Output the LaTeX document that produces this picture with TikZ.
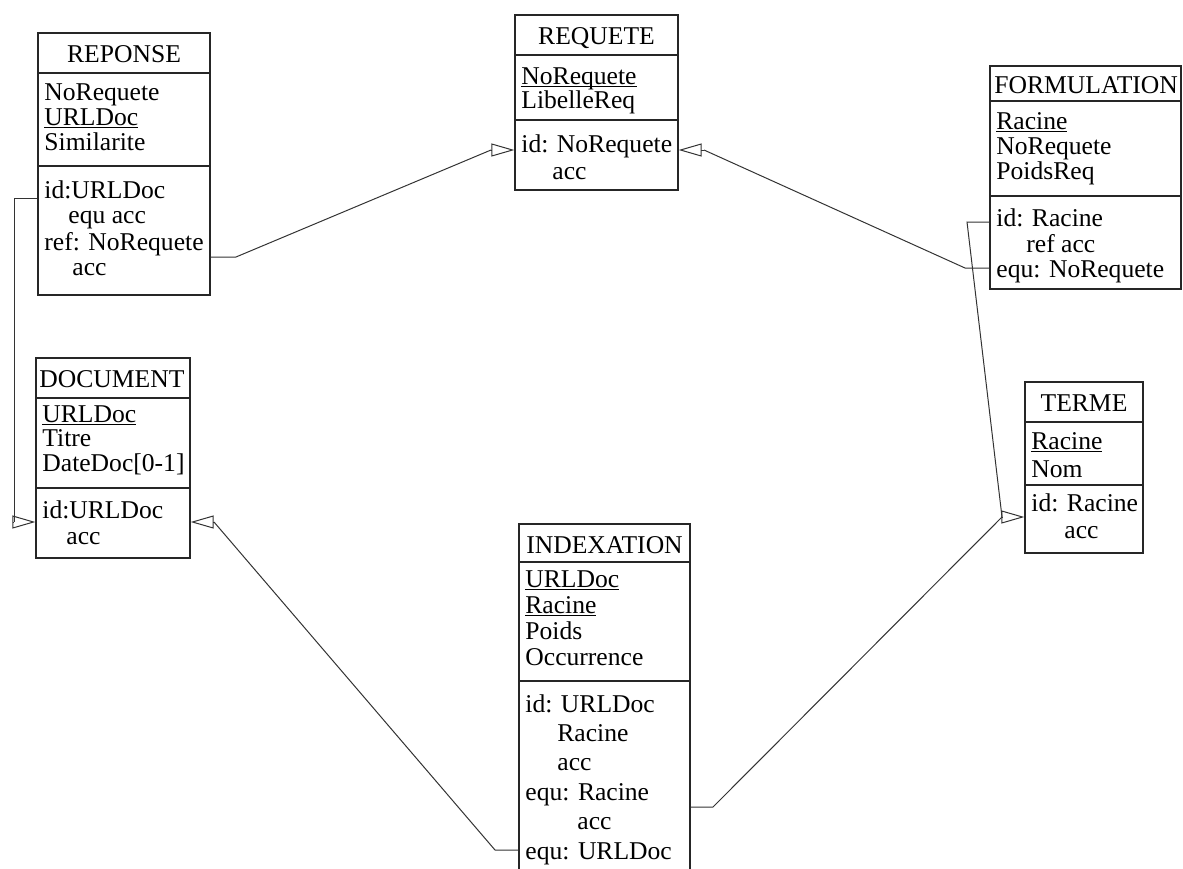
\documentclass[tikz,border=0pt]{standalone}
\usepackage{fontspec}
\setmainfont{Liberation Serif}
\usetikzlibrary{arrows.meta,fit}

% key attribute: a rule just under the baseline, through any descender
\newcommand\keyattr[1]{\setbox0=\hbox{#1}\rlap{\rule[-1.7pt]{\wd0}{0.55pt}}\box0}

\tikzset{
  % 1 unit = one pixel of a 1183 x 868 sheet, y pointing down
  x=0.5pt, y=-0.5pt,
  box/.style={draw=black!85, line width=0.65pt, inner sep=0pt, fill=none},
  sep/.style={draw=black!85, line width=0.65pt},
  txt/.style={inner sep=0pt, anchor=base west, font=\fontsize{12.8}{14}\selectfont},
  ttl/.style={inner sep=0pt, anchor=base, font=\fontsize{12.8}{14}\selectfont},
  link/.style={draw=black!80, line width=0.5pt},
  isa/.style={link, -{Triangle[open, length=11.5pt, width=6.5pt]}},
}

\begin{document}
\begin{tikzpicture}
\useasboundingbox (0,0) rectangle (1183,868);
\clip (0,0) rectangle (1183,868);

% ---------- REPONSE ----------
\node[box, fit={(38,33) (210,295)}] (reponse) {};
\draw[sep] (reponse.west |- 0,73) -- (reponse.east |- 0,73);
\draw[sep] (reponse.west |- 0,166) -- (reponse.east |- 0,166);
\node[ttl] (reponse-t) at (124,62) {REPONSE};
\node[txt] (reponse-a1) at (44,100) {NoRequete};
\node[txt] (reponse-a2) at (44,125) {\keyattr{URLDoc}};
\node[txt] (reponse-a3) at (44,150) {Similarite};
\node[txt] (reponse-k1) at (44,198) {id:URLDoc};
\node[txt] (reponse-k2) at (68,223) {equ acc};
\node[txt] (reponse-k3) at (44,250) {ref: NoRequete};
\node[txt] (reponse-k4) at (72,275) {acc};

% ---------- REQUETE ----------
\node[box, fit={(515,15) (678,190)}] (requete) {};
\draw[sep] (requete.west |- 0,55) -- (requete.east |- 0,55);
\draw[sep] (requete.west |- 0,120) -- (requete.east |- 0,120);
\node[ttl] (requete-t) at (596.5,44) {REQUETE};
\node[txt] (requete-a1) at (521,84) {\keyattr{NoRequete}};
\node[txt] (requete-a2) at (521,108) {LibelleReq};
\node[txt] (requete-k1) at (521,152) {id: NoRequete};
\node[txt] (requete-k2) at (552,179) {acc};

% ---------- FORMULATION ----------
\node[box, fit={(990,66) (1181,289)}] (formul) {};
\draw[sep] (formul.west |- 0,101) -- (formul.east |- 0,101);
\draw[sep] (formul.west |- 0,196) -- (formul.east |- 0,196);
\node[txt] (formul-t) at (994,93) {FORMULATION};
\node[txt] (formul-a1) at (996,129) {\keyattr{Racine}};
\node[txt] (formul-a2) at (996,154) {NoRequete};
\node[txt] (formul-a3) at (996,179) {PoidsReq};
\node[txt] (formul-k1) at (996,226) {id: Racine};
\node[txt] (formul-k2) at (1026,252) {ref acc};
\node[txt] (formul-k3) at (996,277) {equ: NoRequete};

% ---------- DOCUMENT ----------
\node[box, fit={(36,358) (190,558)}] (document) {};
\draw[sep] (document.west |- 0,398) -- (document.east |- 0,398);
\draw[sep] (document.west |- 0,488) -- (document.east |- 0,488);
\node[txt] (document-t) at (39,387) {DOCUMENT};
\node[txt] (document-a1) at (42,422) {\keyattr{URLDoc}};
\node[txt] (document-a2) at (42,446) {Titre};
\node[txt] (document-a3) at (42,471) {DateDoc[0-1]};
\node[txt] (document-k1) at (42,518) {id:URLDoc};
\node[txt] (document-k2) at (66,544) {acc};

% ---------- TERME ----------
\node[box, fit={(1025,382) (1143,553)}] (terme) {};
\draw[sep] (terme.west |- 0,422) -- (terme.east |- 0,422);
\draw[sep] (terme.west |- 0,485) -- (terme.east |- 0,485);
\node[ttl] (terme-t) at (1084,411) {TERME};
\node[txt] (terme-a1) at (1031,449) {\keyattr{Racine}};
\node[txt] (terme-a2) at (1031,477) {Nom};
\node[txt] (terme-k1) at (1031,511) {id: Racine};
\node[txt] (terme-k2) at (1064,538) {acc};

% ---------- INDEXATION ----------
\node[box, fit={(519,524) (690,890)}] (index) {};
\draw[sep] (index.west |- 0,562) -- (index.east |- 0,562);
\draw[sep] (index.west |- 0,681) -- (index.east |- 0,681);
\node[ttl] (index-t) at (604.5,553) {INDEXATION};
\node[txt] (index-a1) at (525,587) {\keyattr{URLDoc}};
\node[txt] (index-a2) at (525,613) {\keyattr{Racine}};
\node[txt] (index-a3) at (525,639) {Poids};
\node[txt] (index-a4) at (525,665) {Occurrence};
\node[txt] (index-k1) at (525,712) {id: URLDoc};
\node[txt] (index-k2) at (557,741) {Racine};
\node[txt] (index-k3) at (557,770) {acc};
\node[txt] (index-k4) at (525,800) {equ: Racine};
\node[txt] (index-k5) at (577,829) {acc};
\node[txt] (index-k6) at (525,859) {equ: URLDoc};

% ---------- attachment points and bends ----------
\coordinate (p-rep-id)   at (reponse.west |- 0,198);
\coordinate (b-rep-id)   at (14,198);
\coordinate (h-doc-l)    at (14,522);
\coordinate (t-doc-l)    at (document.west |- 0,522);

\coordinate (p-rep-ref)  at (reponse.east |- 0,257);
\coordinate (b-rep-ref)  at (236,257);
\coordinate (h-req-l)    at (491,150);
\coordinate (t-req-l)    at (requete.west |- 0,150);

\coordinate (p-for-equ)  at (formul.west |- 0,268);
\coordinate (b-for-equ)  at (965,268);
\coordinate (h-req-r)    at (704,150);
\coordinate (t-req-r)    at (requete.east |- 0,150);

\coordinate (p-for-id)   at (formul.west |- 0,222);
\coordinate (b-for-id)   at (967,222);
\coordinate (h-ter)      at (1002,517);
\coordinate (t-ter)      at (terme.west |- 0,517);

\coordinate (p-idx-r)    at (index.east |- 0,807);
\coordinate (b-idx-r)    at (713,807);

\coordinate (p-idx-l)    at (index.west |- 0,850);
\coordinate (b-idx-l)    at (495,850);
\coordinate (h-doc-r)    at (214,522);
\coordinate (t-doc-r)    at (document.east |- 0,522);

% ---------- references ----------
\draw[link] (p-rep-id) -- (b-rep-id) -- (h-doc-l);
\draw[isa]  (h-doc-l) -- (t-doc-l);

\draw[link] (p-rep-ref) -- (b-rep-ref) -- (h-req-l);
\draw[isa]  (h-req-l) -- (t-req-l);

\draw[link] (p-for-equ) -- (b-for-equ) -- (h-req-r);
\draw[isa]  (h-req-r) -- (t-req-r);

\draw[link] (p-for-id) -- (b-for-id) -- (h-ter);
\draw[link] (p-idx-r) -- (b-idx-r) -- (h-ter);
\draw[isa]  (h-ter) -- (t-ter);

\draw[link] (p-idx-l) -- (b-idx-l) -- (h-doc-r);
\draw[isa]  (h-doc-r) -- (t-doc-r);
\end{tikzpicture}
\end{document}
